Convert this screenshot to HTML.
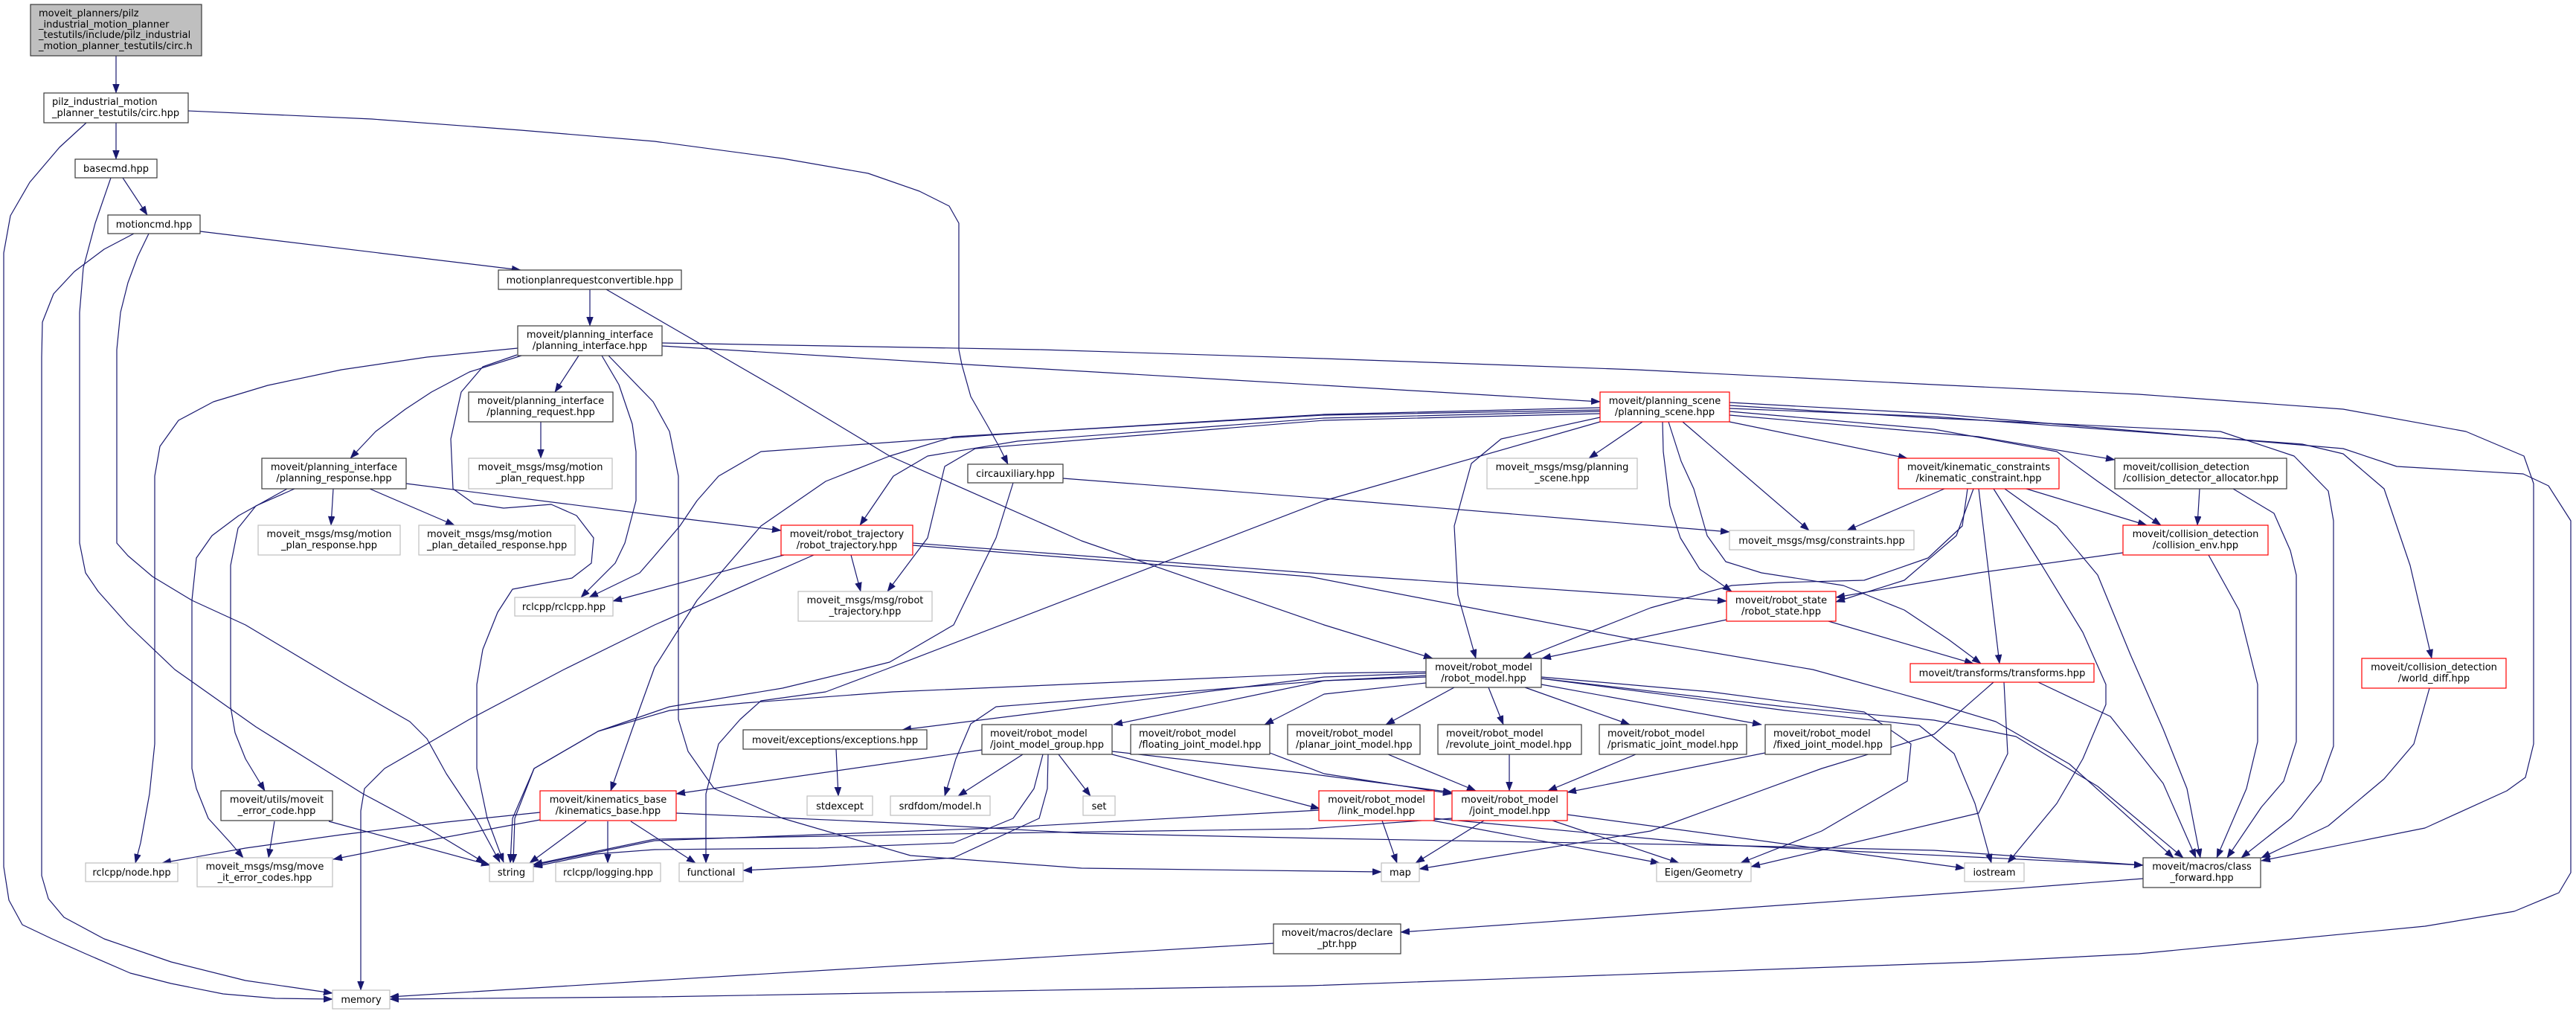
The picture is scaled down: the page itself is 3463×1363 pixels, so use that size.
<!DOCTYPE html>
<html><head><meta charset="utf-8"><style>
html,body{margin:0;padding:0;background:#fff;}
svg{display:block;}
text{font-family:"DejaVu Sans","Liberation Sans",sans-serif;font-size:13px;fill:#000;}
.c{text-anchor:middle;}
.l{text-anchor:start;}
.e path{fill:none;stroke:#191970;stroke-width:1.2;stroke-linejoin:round;marker-end:url(#a);}
.nb{fill:#fff;stroke:#3a3a3a;stroke-width:1.2;}
.nr{fill:#fff;stroke:#ff0000;stroke-width:1.2;}
.ng{fill:#fff;stroke:#bfbfbf;stroke-width:1.2;}
.nroot{fill:#bfbfbf;stroke:#3a3a3a;stroke-width:1.2;}
</style></head><body>
<svg width="3463" height="1363" viewBox="0 0 3463 1363" xmlns="http://www.w3.org/2000/svg">
<defs><marker id="a" markerUnits="userSpaceOnUse" markerWidth="13" markerHeight="10" refX="12" refY="4.5" orient="auto"><path d="M0,0 L12,4.5 L0,9 Z" fill="#191970" stroke="#191970" stroke-width="0.5"/></marker></defs>
<rect width="3463" height="1363" fill="#fff"/>
<g class="e">
<path d="M156,75 L156,125"/>
<path d="M156,165 L156,214"/>
<path d="M116,165 L80,198 L40,245 L14,290 L5,340 L5,1165 L12,1210 L30,1243 L70,1262 L115,1282 L175,1308 L230,1322 L300,1336 L370,1342 L447,1343"/>
<path d="M253,149 L500,160 L700,175 L880,190 L1052,213 L1167,233 L1236,257 L1276,277 L1289,300 L1289,470 L1293,490 L1305,533 L1328,573 L1343,600 L1355,624"/>
<path d="M165,239 L198,289"/>
<path d="M149,239 L128,300 L112,360 L107,420 L107,730 L115,770 L132,795 L172,840 L235,900 L344,977 L488,1067 L574,1113 L652,1160"/>
<path d="M180,314 L140,335 L100,365 L72,395 L57,433 L56,480 L56,1177 L65,1208 L86,1233 L140,1262 L230,1293 L330,1318 L447,1335"/>
<path d="M200,314 L185,345 L172,380 L162,420 L157,470 L157,730 L172,747 L205,775 L258,807 L330,840 L464,920 L551,970 L574,993 L600,1040 L640,1100 L672,1159"/>
<path d="M269,311 L700,363"/>
<path d="M793,389 L793,438"/>
<path d="M815,389 L903,440 L1050,525 L1196,613 L1454,727 L1780,840 L1926,885"/>
<path d="M778,478 L746,527"/>
<path d="M701,478 L631,500 L580,527 L545,550 L505,580 L471,616"/>
<path d="M696,468 L574,480 L459,497 L360,518 L287,540 L240,565 L215,600 L208,640 L208,1000 L201,1067 L189,1133 L182,1160"/>
<path d="M695,477 L649,493 L620,527 L606,590 L609,657 L637,677 L677,683 L741,678 L775,693 L798,723 L795,757 L769,777 L689,792 L669,823 L649,873 L641,920 L641,1033 L655,1100 L677,1159"/>
<path d="M809,478 L832,517 L850,570 L855,607 L855,673 L840,730 L827,757 L781,803"/>
<path d="M818,478 L878,540 L900,580 L912,640 L912,967 L925,1010 L960,1060 L1052,1100 L1224,1150 L1454,1167 L1857,1172"/>
<path d="M890,465 L1300,490 L1780,518 L2151,540"/>
<path d="M890,461 L1400,470 L1780,482 L2200,497 L2600,517 L2875,530 L3150,550 L3315,580 L3393,613 L3406,650 L3406,1000 L3395,1045 L3370,1063 L3260,1113 L3040,1157"/>
<path d="M546,650 L900,695 L1050,713"/>
<path d="M448,657 L445,706"/>
<path d="M497,657 L611,706"/>
<path d="M396,657 L344,680 L320,710 L310,760 L310,950 L316,985 L330,1020 L356,1063"/>
<path d="M386,657 L321,693 L285,720 L264,750 L258,807 L258,1033 L264,1060 L280,1100 L310,1133 L327,1153"/>
<path d="M727,567 L727,616"/>
<path d="M369,1104 L361,1153"/>
<path d="M442,1104 L659,1163"/>
<path d="M726,1092 L600,1105 L459,1122 L330,1140 L218,1160"/>
<path d="M726,1102 L574,1130 L448,1155"/>
<path d="M788,1104 L712,1160"/>
<path d="M817,1104 L817,1160"/>
<path d="M848,1104 L935,1160"/>
<path d="M909,1093 L1224,1107 L1454,1120 L1780,1127 L2300,1136 L2600,1143 L2881,1163"/>
<path d="M1054,746 L824,808"/>
<path d="M1144,746 L1157,795"/>
<path d="M1094,746 L880,840 L758,900 L631,967 L517,1033 L490,1060 L485,1090 L485,1331"/>
<path d="M1227,730 L1760,770 L2321,808"/>
<path d="M1227,733 L1760,775 L2200,860 L2437,900 L2600,945 L2683,970 L2782,1027 L2922,1153"/>
<path d="M2072,912 L2400,950 L2600,968 L2710,990 L2820,1057 L2935,1153"/>
<path d="M1429,643 L1780,670 L2325,715"/>
<path d="M1362,649 L1339,723 L1282,840 L1196,890 L1156,900 L1052,925 L900,950 L804,983 L718,1033 L689,1100 L686,1160"/>
<path d="M2151,548 L1780,557 L1400,580 L1023,607 L966,640 L937,673 L914,707 L880,747 L860,770 L792,803"/>
<path d="M2151,551 L1780,558 L1282,587 L1196,613 L1110,647 L1023,707 L937,807 L880,897 L850,980 L821,1063"/>
<path d="M2151,553 L1780,562 L1368,593 L1247,613 L1201,640 L1156,706"/>
<path d="M2151,556 L1780,565 L1311,603 L1270,627 L1259,673 L1247,723 L1193,795"/>
<path d="M2151,567 L1780,673 L1190,900 L1110,930 L1023,942 L995,967 L966,1000 L949,1067 L949,1160"/>
<path d="M2208,567 L2136,616"/>
<path d="M2262,567 L2432,713"/>
<path d="M2325,567 L2564,616"/>
<path d="M2235,567 L2236,607 L2245,680 L2259,723 L2285,765 L2328,795"/>
<path d="M2243,567 L2260,620 L2277,657 L2295,720 L2320,755 L2368,770 L2478,787 L2560,820 L2620,860 L2663,892"/>
<path d="M2151,561 L2018,590 L1978,623 L1955,707 L1960,800 L1984,885"/>
<path d="M2325,558 L2660,587 L2843,618"/>
<path d="M2325,553 L2600,577 L2765,607 L2820,647 L2905,706"/>
<path d="M2325,549 L2600,560 L3095,597 L3150,610 L3205,657 L3240,760 L3269,885"/>
<path d="M2325,545 L2600,562 L2985,580 L3084,613 L3130,660 L3137,700 L3137,1003 L3120,1050 L3080,1100 L3013,1153"/>
<path d="M2325,541 L2600,556 L3150,603 L3222,627 L3392,637 L3426,653 L3456,700 L3456,1173 L3440,1200 L3380,1225 L3260,1245 L2875,1282 L2660,1293 L1760,1325 L880,1340 L524,1343"/>
<path d="M2957,657 L2954,706"/>
<path d="M3002,657 L3057,690 L3079,740 L3087,773 L3087,997 L3070,1050 L3040,1085 L2994,1153"/>
<path d="M2969,746 L3010,820 L3035,920 L3035,997 L3020,1060 L2980,1153"/>
<path d="M2854,743 L2660,770 L2468,803"/>
<path d="M2614,657 L2483,713"/>
<path d="M2724,657 L2886,706"/>
<path d="M2660,657 L2688,892"/>
<path d="M2653,657 L2630,720 L2560,780 L2468,809"/>
<path d="M2645,657 L2638,707 L2592,750 L2506,780 L2391,783 L2328,787 L2219,817 L2047,885"/>
<path d="M2680,657 L2745,760 L2800,850 L2831,920 L2831,947 L2800,1020 L2765,1080 L2699,1160"/>
<path d="M2695,657 L2765,707 L2820,773 L2864,880 L2908,980 L2940,1060 L2958,1153"/>
<path d="M2694,917 L2699,1013 L2660,1093 L2354,1165"/>
<path d="M2740,917 L2837,963 L2908,1053 L2952,1153"/>
<path d="M2680,917 L2600,987 L2449,1033 L2219,1117 L1908,1168"/>
<path d="M2321,833 L2073,885"/>
<path d="M2458,835 L2653,892"/>
<path d="M3266,925 L3245,1000 L3205,1047 L3130,1110 L3040,1153"/>
<path d="M1917,905 L1780,910 L1213,981"/>
<path d="M1917,908 L1780,915 L1497,974"/>
<path d="M1917,918 L1780,933 L1700,974"/>
<path d="M1955,924 L1863,974"/>
<path d="M2001,924 L2021,974"/>
<path d="M2050,924 L2191,974"/>
<path d="M2072,920 L2368,974"/>
<path d="M1917,910 L1780,915 L1339,950 L1305,973 L1285,1020 L1270,1070"/>
<path d="M1917,903 L1780,905 L1200,930 L1000,945 L900,955 L804,983 L718,1033 L692,1100 L690,1160"/>
<path d="M2072,910 L2300,930 L2506,957 L2569,1000 L2564,1050 L2449,1117 L2340,1160"/>
<path d="M2072,912 L2400,955 L2580,975 L2627,1013 L2655,1080 L2677,1160"/>
<path d="M1124,1007 L1127,1070"/>
<path d="M1320,1008 L909,1067"/>
<path d="M1375,1014 L1288,1070"/>
<path d="M1423,1014 L1466,1070"/>
<path d="M1495,1014 L1774,1087"/>
<path d="M1495,1010 L1760,1040 L1952,1065"/>
<path d="M1402,1014 L1390,1060 L1362,1100 L1282,1133 L1100,1140 L880,1142 L800,1148 L717,1165"/>
<path d="M1409,1014 L1408,1060 L1397,1100 L1282,1153 L1100,1165 L999,1170"/>
<path d="M1707,1012 L1780,1040 L1952,1067"/>
<path d="M1866,1014 L1984,1063"/>
<path d="M2029,1014 L2029,1063"/>
<path d="M2199,1014 L2081,1063"/>
<path d="M2373,1012 L2107,1065"/>
<path d="M1858,1103 L1878,1160"/>
<path d="M1926,1103 L2231,1160"/>
<path d="M1774,1089 L1339,1113 L880,1130 L717,1163"/>
<path d="M1928,1100 L2300,1135 L2881,1163"/>
<path d="M1995,1103 L1903,1160"/>
<path d="M2087,1103 L2257,1160"/>
<path d="M2107,1095 L2641,1167"/>
<path d="M1952,1100 L1760,1114 L1339,1120 L880,1128 L717,1162"/>
<path d="M2881,1181 L2660,1198 L1883,1253"/>
<path d="M1712,1268 L880,1318 L524,1340"/>
</g>
<g>
<rect class="nroot" x="41" y="6" width="230" height="69"/>
<text class="l" x="52" y="22">moveit_planners/pilz</text>
<text class="l" x="52" y="37">_industrial_motion_planner</text>
<text class="l" x="52" y="51">_testutils/include/pilz_industrial</text>
<text class="l" x="52" y="66">_motion_planner_testutils/circ.h</text>

<rect class="nb" x="59" y="125" width="194" height="40"/>
<text class="l" x="70" y="141">pilz_industrial_motion</text>
<text class="l" x="70" y="156">_planner_testutils/circ.hpp</text>

<rect class="nb" x="101" y="214" width="110" height="25"/>
<text class="c" x="156" y="231">basecmd.hpp</text>

<rect class="nb" x="145" y="289" width="124" height="25"/>
<text class="c" x="207" y="306">motioncmd.hpp</text>

<rect class="nb" x="670" y="363" width="246" height="26"/>
<text class="c" x="793" y="381">motionplanrequestconvertible.hpp</text>

<rect class="nb" x="696" y="438" width="194" height="40"/>
<text class="c" x="793" y="454">moveit/planning_interface</text>
<text class="c" x="793" y="469">/planning_interface.hpp</text>

<rect class="nb" x="630" y="527" width="194" height="40"/>
<text class="c" x="727" y="543">moveit/planning_interface</text>
<text class="c" x="727" y="558">/planning_request.hpp</text>

<rect class="nb" x="352" y="616" width="194" height="41"/>
<text class="c" x="449" y="632">moveit/planning_interface</text>
<text class="c" x="449" y="647">/planning_response.hpp</text>

<rect class="ng" x="630" y="616" width="193" height="41"/>
<text class="c" x="726.5" y="632">moveit_msgs/msg/motion</text>
<text class="c" x="726.5" y="647">_plan_request.hpp</text>

<rect class="ng" x="347" y="706" width="191" height="40"/>
<text class="c" x="442.5" y="722">moveit_msgs/msg/motion</text>
<text class="c" x="442.5" y="737">_plan_response.hpp</text>

<rect class="ng" x="563" y="706" width="210" height="40"/>
<text class="l" x="574" y="722">moveit_msgs/msg/motion</text>
<text class="l" x="574" y="737">_plan_detailed_response.hpp</text>

<rect class="ng" x="692" y="803" width="132" height="25"/>
<text class="c" x="758" y="820">rclcpp/rclcpp.hpp</text>

<rect class="nb" x="297" y="1063" width="150" height="40"/>
<text class="c" x="372" y="1079">moveit/utils/moveit</text>
<text class="c" x="372" y="1094">_error_code.hpp</text>

<rect class="nr" x="726" y="1063" width="183" height="40"/>
<text class="c" x="817.5" y="1079">moveit/kinematics_base</text>
<text class="c" x="817.5" y="1094">/kinematics_base.hpp</text>

<rect class="ng" x="115" y="1160" width="124" height="25"/>
<text class="c" x="177" y="1177">rclcpp/node.hpp</text>

<rect class="ng" x="265" y="1153" width="182" height="39"/>
<text class="c" x="356" y="1169">moveit_msgs/msg/move</text>
<text class="c" x="356" y="1184">_it_error_codes.hpp</text>

<rect class="ng" x="658" y="1160" width="59" height="25"/>
<text class="c" x="687.5" y="1177">string</text>

<rect class="ng" x="747" y="1160" width="141" height="25"/>
<text class="c" x="817.5" y="1177">rclcpp/logging.hpp</text>

<rect class="ng" x="447" y="1331" width="77" height="25"/>
<text class="c" x="485.5" y="1348">memory</text>

<rect class="ng" x="913" y="1160" width="86" height="25"/>
<text class="c" x="956" y="1177">functional</text>

<rect class="nb" x="1301" y="624" width="128" height="25"/>
<text class="c" x="1365" y="641">circauxiliary.hpp</text>

<rect class="nr" x="1050" y="706" width="177" height="40"/>
<text class="c" x="1138.5" y="722">moveit/robot_trajectory</text>
<text class="c" x="1138.5" y="737">/robot_trajectory.hpp</text>

<rect class="ng" x="1073" y="795" width="180" height="40"/>
<text class="c" x="1163" y="811">moveit_msgs/msg/robot</text>
<text class="c" x="1163" y="826">_trajectory.hpp</text>

<rect class="nb" x="999" y="981" width="247" height="26"/>
<text class="c" x="1122.5" y="999">moveit/exceptions/exceptions.hpp</text>

<rect class="ng" x="1085" y="1070" width="88" height="26"/>
<text class="c" x="1129" y="1088">stdexcept</text>

<rect class="ng" x="1197" y="1070" width="134" height="26"/>
<text class="c" x="1264" y="1088">srdfdom/model.h</text>

<rect class="ng" x="1456" y="1070" width="43" height="26"/>
<text class="c" x="1477.5" y="1088">set</text>

<rect class="nb" x="1320" y="974" width="175" height="40"/>
<text class="l" x="1331" y="990">moveit/robot_model</text>
<text class="l" x="1331" y="1005">/joint_model_group.hpp</text>

<rect class="nb" x="1520" y="974" width="187" height="40"/>
<text class="l" x="1531" y="990">moveit/robot_model</text>
<text class="l" x="1531" y="1005">/floating_joint_model.hpp</text>

<rect class="nb" x="1731" y="974" width="178" height="40"/>
<text class="l" x="1742" y="990">moveit/robot_model</text>
<text class="l" x="1742" y="1005">/planar_joint_model.hpp</text>

<rect class="nb" x="1933" y="974" width="193" height="40"/>
<text class="l" x="1944" y="990">moveit/robot_model</text>
<text class="l" x="1944" y="1005">/revolute_joint_model.hpp</text>

<rect class="nb" x="2150" y="974" width="198" height="40"/>
<text class="l" x="2161" y="990">moveit/robot_model</text>
<text class="l" x="2161" y="1005">/prismatic_joint_model.hpp</text>

<rect class="nb" x="2373" y="974" width="169" height="40"/>
<text class="l" x="2384" y="990">moveit/robot_model</text>
<text class="l" x="2384" y="1005">/fixed_joint_model.hpp</text>

<rect class="nr" x="1773" y="1063" width="155" height="40"/>
<text class="c" x="1850.5" y="1079">moveit/robot_model</text>
<text class="c" x="1850.5" y="1094">/link_model.hpp</text>

<rect class="nr" x="1952" y="1063" width="155" height="40"/>
<text class="c" x="2029.5" y="1079">moveit/robot_model</text>
<text class="c" x="2029.5" y="1094">/joint_model.hpp</text>

<rect class="ng" x="1857" y="1160" width="51" height="25"/>
<text class="c" x="1882.5" y="1177">map</text>

<rect class="ng" x="2227" y="1160" width="127" height="25"/>
<text class="c" x="2290.5" y="1177">Eigen/Geometry</text>

<rect class="ng" x="2641" y="1160" width="80" height="25"/>
<text class="c" x="2681" y="1177">iostream</text>

<rect class="nb" x="1712" y="1242" width="171" height="40"/>
<text class="c" x="1797.5" y="1258">moveit/macros/declare</text>
<text class="c" x="1797.5" y="1273">_ptr.hpp</text>

<rect class="nb" x="2881" y="1153" width="158" height="40"/>
<text class="c" x="2960" y="1169">moveit/macros/class</text>
<text class="c" x="2960" y="1184">_forward.hpp</text>

<rect class="nr" x="2151" y="527" width="174" height="40"/>
<text class="c" x="2238" y="543">moveit/planning_scene</text>
<text class="c" x="2238" y="558">/planning_scene.hpp</text>

<rect class="ng" x="1999" y="616" width="202" height="41"/>
<text class="c" x="2100" y="632">moveit_msgs/msg/planning</text>
<text class="c" x="2100" y="647">_scene.hpp</text>

<rect class="ng" x="2325" y="713" width="248" height="26"/>
<text class="c" x="2449" y="731">moveit_msgs/msg/constraints.hpp</text>

<rect class="nr" x="2552" y="616" width="216" height="41"/>
<text class="c" x="2660" y="632">moveit/kinematic_constraints</text>
<text class="c" x="2660" y="647">/kinematic_constraint.hpp</text>

<rect class="nr" x="2321" y="795" width="147" height="40"/>
<text class="c" x="2394.5" y="811">moveit/robot_state</text>
<text class="c" x="2394.5" y="826">/robot_state.hpp</text>

<rect class="nb" x="1917" y="885" width="155" height="39"/>
<text class="c" x="1994.5" y="901">moveit/robot_model</text>
<text class="c" x="1994.5" y="916">/robot_model.hpp</text>

<rect class="nr" x="2568" y="892" width="247" height="25"/>
<text class="c" x="2691.5" y="909">moveit/transforms/transforms.hpp</text>

<rect class="nb" x="2843" y="616" width="231" height="41"/>
<text class="l" x="2854" y="632">moveit/collision_detection</text>
<text class="l" x="2854" y="647">/collision_detector_allocator.hpp</text>

<rect class="nr" x="2854" y="706" width="195" height="40"/>
<text class="c" x="2951.5" y="722">moveit/collision_detection</text>
<text class="c" x="2951.5" y="737">/collision_env.hpp</text>

<rect class="nr" x="3175" y="885" width="194" height="40"/>
<text class="c" x="3272" y="901">moveit/collision_detection</text>
<text class="c" x="3272" y="916">/world_diff.hpp</text>
</g>
</svg>
</body></html>
